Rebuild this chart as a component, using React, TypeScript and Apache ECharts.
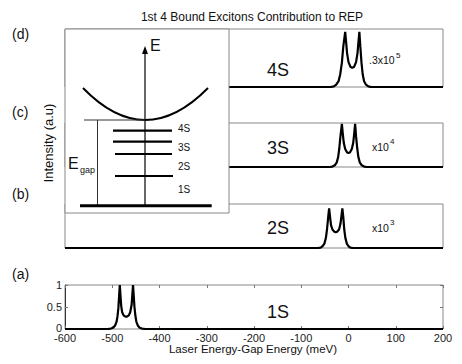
import React, { useEffect, useRef } from "react";
import * as echarts from "echarts";

// ---- Data ----
const xTicks = [-600, -500, -400, -300, -200, -100, 0, 100, 200];
const yTicks = [0, 0.5, 1];

const x1S = [-600, -510, -503, -498, -494, -491, -489, -487, -485.5, -484, -482.5, -481, -479, -476, -472, -469, -465, -462, -459, -457.5, -456, -454.5, -453, -451, -449, -446, -442, -437, -430, 200];
const y1S = [0, 0, 0.01, 0.03, 0.08, 0.16, 0.28, 0.48, 0.75, 1.0, 0.75, 0.52, 0.38, 0.31, 0.28, 0.28, 0.31, 0.38, 0.55, 0.78, 1.0, 0.75, 0.5, 0.3, 0.17, 0.08, 0.03, 0.01, 0, 0];

const x2S = [-600, -65, -59, -55, -51, -48, -45.5, -43, -41, -39, -37, -34, -30, -27, -24, -20, -17, -15, -13, -11, -9, -6.5, -3.5, 0, 4, 10, 200];
const y2S = [0, 0, 0.01, 0.04, 0.1, 0.22, 0.42, 0.7, 0.9, 0.7, 0.52, 0.42, 0.37, 0.36, 0.37, 0.42, 0.55, 0.72, 0.9, 0.7, 0.42, 0.22, 0.1, 0.04, 0.01, 0, 0];

const x3S = [-600, -40, -34, -29, -25, -22, -19.5, -17, -14, -12, -10, -7, -3, 0, 3, 7, 10, 12, 14, 16, 18.5, 21, 24, 28, 33, 39, 200];
const y3S = [0, 0, 0.01, 0.04, 0.1, 0.22, 0.42, 0.7, 0.98, 0.75, 0.55, 0.41, 0.33, 0.32, 0.33, 0.41, 0.55, 0.75, 0.98, 0.7, 0.42, 0.22, 0.1, 0.04, 0.01, 0, 0];

const x4S = [-600, -38, -31, -26, -21, -17.5, -14, -11, -7, -5, -3, 0, 4, 8, 12, 16, 19, 21, 23, 25, 27.5, 30, 33, 37, 42, 48, 200];
const y4S = [0, 0, 0.01, 0.04, 0.1, 0.22, 0.42, 0.7, 0.95, 0.77, 0.58, 0.43, 0.35, 0.33, 0.35, 0.43, 0.58, 0.77, 0.95, 0.7, 0.42, 0.22, 0.1, 0.04, 0.01, 0, 0];

const panelLetters = ["(a)", "(b)", "(c)", "(d)"];
const stateLabels = ["1S", "2S", "3S", "4S"];
const scaleBases = ["", "x10", "x10", ".3x10"];
const scaleExps = ["", "3", "4", "5"];
const titleText = "1st 4 Bound Excitons Contribution to REP";
const xTitle = "Laser Energy-Gap Energy (meV)";
const yTitle = "Intensity (a.u)";

const FONT = "'Liberation Sans', Arial, Helvetica, sans-serif";

function zip(xs: number[], ys: number[]) {
  return xs.map((x, i) => [x, ys[i]]);
}

export default function App() {
  const ref = useRef<HTMLDivElement>(null);
  useEffect(() => {
    if (!ref.current) return;
    const chart = echarts.init(ref.current, undefined, { renderer: "svg" });
    const grids = [
      { left: 65, top: 285, width: 378, height: 44 },
      { left: 65, top: 204, width: 378, height: 44 },
      { left: 65, top: 123, width: 378, height: 44 },
      { left: 65, top: 29, width: 378, height: 58 },
    ].map((g) => ({ ...g, show: true, borderColor: "#888", borderWidth: 1, backgroundColor: "transparent" }));

    const seriesData = [zip(x1S, y1S), zip(x2S, y2S), zip(x3S, y3S), zip(x4S, y4S)];
    const tick = { show: true, inside: true, length: 3, lineStyle: { color: "#777" } };

    const xAxes: any[] = [];
    const yAxes: any[] = [];
    for (let i = 0; i < 4; i++) {
      xAxes.push({
        type: "value",
        gridIndex: i,
        position: "bottom",
        min: xTicks[0],
        max: xTicks[xTicks.length - 1],
        interval: 100,
        show: i === 0,
        axisLine: { show: false, onZero: false },
        axisTick: tick,
        axisLabel: { fontSize: 11, lineHeight: 11, color: "#222", margin: 3, fontFamily: FONT },
        splitLine: { show: false },
      });
      yAxes.push({
        type: "value",
        gridIndex: i,
        position: "left",
        min: yTicks[0],
        max: yTicks[yTicks.length - 1],
        interval: 0.5,
        show: i === 0,
        axisLine: { show: true, onZero: false, lineStyle: { color: "#333", width: 1 } },
        axisTick: tick,
        axisLabel: {
          fontSize: 11,
          lineHeight: 10,
          color: "#222",
          margin: 3,
          fontFamily: FONT,
          formatter: (v: number) => (v === 0 ? "{z|0}" : String(v)),
          rich: { z: { fontSize: 11, lineHeight: 8, padding: [0, 0, 3, 0], color: "#222", fontFamily: FONT } },
        },
        splitLine: { show: false },
      });
    }
    // mirror axes for panel (a)
    xAxes.push({
      type: "value", gridIndex: 0, position: "top", min: xTicks[0], max: xTicks[xTicks.length - 1], interval: 100,
      axisLine: { show: false, onZero: false }, axisLabel: { show: false }, splitLine: { show: false },
      axisTick: tick,
    });
    yAxes.push({
      type: "value", gridIndex: 0, position: "right", min: 0, max: 1, interval: 0.5,
      axisLine: { show: false, onZero: false }, axisLabel: { show: false }, splitLine: { show: false },
      axisTick: tick,
    });

    const series = seriesData.map((d, i) => ({
      type: "line",
      xAxisIndex: i,
      yAxisIndex: i,
      data: d,
      showSymbol: false,
      symbol: "none",
      lineStyle: { color: "#000", width: 2.2 },
      z: 3,
    }));

    const txt = (text: string, x: number, y: number, fontSize: number, extra: any = {}) => ({
      type: "text",
      x,
      y,
      z: 100,
      style: {
        text,
        fontSize,
        fontFamily: FONT,
        fill: "#111",
        textAlign: "left",
        textVerticalAlign: "middle",
        ...extra,
      },
    });

    const letterY = [274, 194, 112, 34];
    const labelY = [312, 228, 148, 70];
    const baseX = [0, 372, 372, 369];
    const baseY = [0, 228, 147, 60];
    const expX = [0, 390, 390, 396];
    const expY = [0, 222, 141, 55];

    const graphics: any[] = [
      txt(titleText, 252, 17, 12, { textAlign: "center" }),
      txt(xTitle, 253, 349, 11.5, { textAlign: "center", lineHeight: 11 }),
      { ...txt(yTitle, 48, 143, 13, { textAlign: "center" }), rotation: Math.PI / 2 },
    ];
    for (let i = 0; i < 4; i++) {
      graphics.push(txt(panelLetters[i], 12, letterY[i], 14));
      graphics.push(txt(stateLabels[i], 267, labelY[i], 18));
      if (scaleBases[i]) {
        graphics.push(txt(scaleBases[i], baseX[i], baseY[i], 10.5));
        graphics.push(txt(scaleExps[i], expX[i], expY[i], 8));
      }
    }

    // Inset energy diagram
    const ink = { stroke: "#000", lineWidth: 2.2, fill: null };
    const thin = { stroke: "#333", lineWidth: 1, fill: null };
    graphics.push(
      { type: "rect", z: 90, shape: { x: 65, y: 29, width: 164, height: 184 }, style: { fill: "#fff", stroke: "#888", lineWidth: 1 } },
      { type: "bezierCurve", z: 100, shape: { x1: 83, y1: 88, x2: 208, y2: 88, cpx1: 145, cpy1: 152 }, style: { stroke: "#000", lineWidth: 2, fill: null } },
      { type: "line", z: 100, shape: { x1: 145, y1: 206, x2: 145, y2: 52 }, style: { stroke: "#000", lineWidth: 1.2 } },
      { type: "polygon", z: 100, shape: { points: [[145, 46], [142, 54], [148, 54]] }, style: { fill: "#000" } },
      txt("E", 150, 45, 16),
      { type: "line", z: 100, shape: { x1: 84, y1: 120, x2: 145, y2: 120 }, style: thin },
      { type: "line", z: 100, shape: { x1: 97.5, y1: 120, x2: 97.5, y2: 206 }, style: thin },
      { type: "line", z: 100, shape: { x1: 113, y1: 130.7, x2: 172, y2: 130.7 }, style: ink },
      { type: "line", z: 100, shape: { x1: 113, y1: 141.7, x2: 172, y2: 141.7 }, style: ink },
      { type: "line", z: 100, shape: { x1: 115, y1: 154, x2: 172, y2: 154 }, style: ink },
      { type: "line", z: 100, shape: { x1: 115, y1: 176, x2: 173, y2: 176 }, style: ink },
      { type: "line", z: 100, shape: { x1: 80, y1: 205.7, x2: 211.7, y2: 205.7 }, style: { stroke: "#000", lineWidth: 3 } },
      txt("4S", 178, 128, 10),
      txt("3S", 178, 147, 10),
      txt("2S", 178, 166, 10),
      txt("1S", 178, 189, 10),
      txt("E", 68, 163, 16),
      txt("gap", 80, 170, 9)
    );

    chart.setOption({
      animation: false,
      backgroundColor: "#fff",
      grid: grids,
      xAxis: xAxes,
      yAxis: yAxes,
      series,
      graphic: graphics,
    });
    return () => chart.dispose();
  }, []);
  return <div ref={ref} style={{ position: "fixed", left: 0, top: 0, width: 462, height: 364 }} />;
}
